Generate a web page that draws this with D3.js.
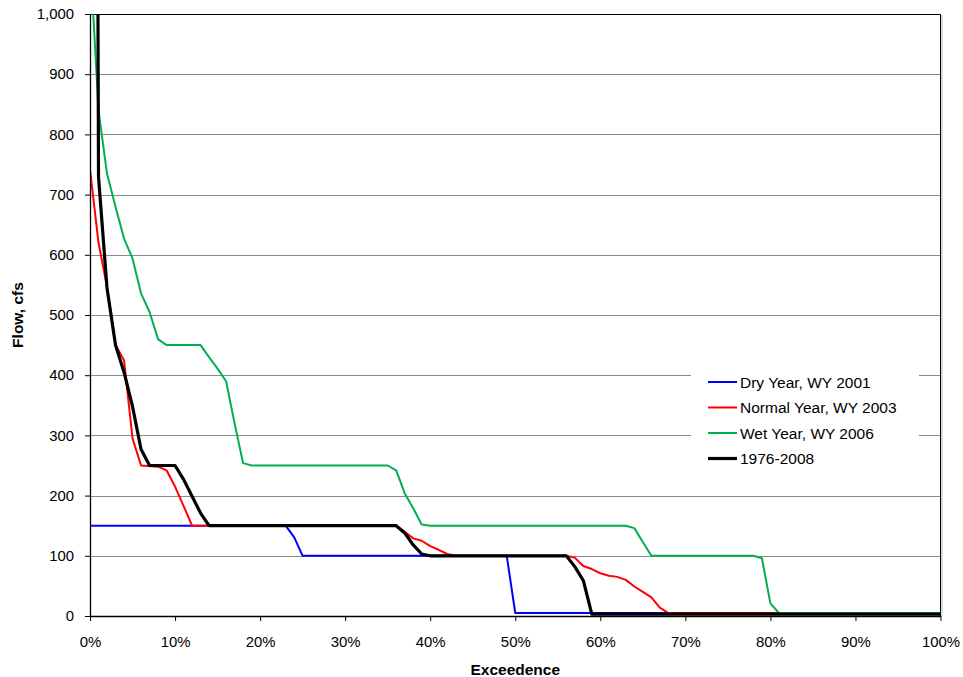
<!DOCTYPE html>
<html>
<head>
<meta charset="utf-8">
<script src="https://cdn.jsdelivr.net/npm/d3@7"></script>
<style>
  body { margin: 0; background: #fff; }
  svg { font-family: "Liberation Sans", Arial, sans-serif; }
</style>
</head>
<body>
<div id="chart"></div>
<script>
// flow duration curves, values at each kink
let dryPct    = [0, 23, 24, 25, 49, 50, 100];
let dryFlow   = [150, 150, 131, 100, 100, 5, 5];

let normalPct  = [0, 1, 2, 3, 4, 5, 6, 8, 9, 10, 11, 12, 36, 37, 38, 39, 40, 41, 42, 43,
                  56, 57, 58, 59, 60, 61, 62, 63, 64, 65, 66, 67, 68, 100];
let normalFlow = [742, 620, 547, 450, 425, 295, 250, 248, 242, 215, 183, 150, 150, 140, 129, 125, 116, 110, 103, 100,
                  100, 97, 83, 78, 71, 67, 65, 60, 49, 40, 31, 14, 5, 5];

let wetPct  = [0, 1, 2, 3, 4, 5, 6, 7, 8, 9, 13, 14, 15, 16, 17, 18, 19, 35, 36, 37, 38, 39, 40,
               63, 64, 65, 66, 78, 79, 80, 81, 100];
let wetFlow = [1100, 840, 735, 680, 627, 594, 536, 505, 460, 450, 450, 430, 411, 390, 320, 254, 250, 250, 242, 204, 179, 152, 150,
               150, 146, 123, 100, 100, 96, 21, 5, 5];

let allPct  = [0, 1, 2, 3, 4, 5, 6, 7, 10, 11, 12, 13, 14, 36, 37, 38, 39, 40, 56, 57, 58, 59, 100];
let allFlow = [5000, 730, 545, 450, 405, 348, 277, 250, 250, 227, 199, 171, 150, 150, 138, 118, 103, 100, 100, 82, 59, 3, 3];

let seriesNames = ["Dry Year, WY 2001", "Normal Year, WY 2003", "Wet Year, WY 2006", "1976-2008"];
let xTicks = [0, 10, 20, 30, 40, 50, 60, 70, 80, 90, 100];
let yTicks = [0, 100, 200, 300, 400, 500, 600, 700, 800, 900, 1000];

let series = [
  { name: seriesNames[0], pct: dryPct, flow: dryFlow, color: "#0000ff", width: 2 },
  { name: seriesNames[1], pct: normalPct, flow: normalFlow, color: "#ff0000", width: 2 },
  { name: seriesNames[2], pct: wetPct, flow: wetFlow, color: "#00b050", width: 2 },
  { name: seriesNames[3], pct: allPct, flow: allFlow, color: "#000000", width: 3.2 }
];

let width = 963, height = 677;
let plotLeft = 90, plotRight = 940.5, plotTop = 14, plotBottom = 616;
let tickFont = "14.9px", titleFont = "15.5px", legendFont = "15.5px";

let x = d3.scaleLinear().domain([0, 100]).range([plotLeft, plotRight]);
let y = d3.scaleLinear().domain([0, 1000]).range([plotBottom, plotTop]);

let svg = d3.select("#chart")
    .append("svg")
    .attr("width", width)
    .attr("height", height);

svg.append("defs").append("clipPath")
    .attr("id", "plot-clip")
  .append("rect")
    .attr("x", plotLeft)
    .attr("y", plotTop)
    .attr("width", plotRight - plotLeft)
    .attr("height", plotBottom - plotTop);

// gridlines
svg.append("g")
  .selectAll("line")
  .data(yTicks.filter(d => d > 0 && d < 1000))
  .join("line")
    .attr("x1", plotLeft)
    .attr("x2", plotRight)
    .attr("y1", d => Math.round(y(d)) + 0.5)
    .attr("y2", d => Math.round(y(d)) + 0.5)
    .attr("stroke", "#8a8a8a")
    .attr("stroke-width", 1);

// plot area border (top and right)
svg.append("path")
    .attr("d", `M${plotLeft},${plotTop + 0.5}H${plotRight}V${plotBottom}`)
    .attr("fill", "none")
    .attr("stroke", "#000")
    .attr("stroke-width", 1);
svg.append("line")
    .attr("x1", plotRight + 1.5).attr("x2", plotRight + 1.5)
    .attr("y1", plotTop + 1).attr("y2", plotBottom)
    .attr("stroke", "#bbb");

// legend background hides the gridlines behind it
let legendX = 691, legendY = 366;
svg.append("rect")
    .attr("x", legendX)
    .attr("y", legendY)
    .attr("width", 228)
    .attr("height", 106)
    .attr("fill", "#fff");

let line = d3.line()
    .x(d => x(d[0]))
    .y(d => y(d[1]));

svg.append("g")
    .attr("clip-path", "url(#plot-clip)")
  .selectAll("path")
  .data(series)
  .join("path")
    .attr("d", s => line(s.pct.map((p, i) => [p, s.flow[i]])))
    .attr("fill", "none")
    .attr("stroke", s => s.color)
    .attr("stroke-width", s => s.width)
    .attr("stroke-linejoin", "round");

// axes
let xAxis = d3.axisBottom(x)
    .tickValues(xTicks)
    .tickFormat(d => d + "%")
    .tickSize(5)
    .tickSizeOuter(0)
    .tickPadding(15);
let yAxis = d3.axisLeft(y)
    .tickValues(yTicks)
    .tickFormat(d3.format(","))
    .tickSize(5)
    .tickSizeOuter(0)
    .tickPadding(11);

let gx = svg.append("g")
    .attr("transform", `translate(0,${plotBottom})`)
    .call(xAxis);
let gy = svg.append("g")
    .attr("transform", `translate(${plotLeft},0)`)
    .call(yAxis);

[gx, gy].forEach(g => {
  g.selectAll("text")
      .attr("font-size", tickFont)
      .attr("font-family", "'Liberation Sans', Arial, sans-serif")
      .attr("fill", "#000");
  g.selectAll("line").attr("stroke", "#000");
  g.select(".domain").attr("stroke", "#000").attr("stroke-width", 1.3);
});

// axis titles
svg.append("text")
    .attr("x", (plotLeft + plotRight) / 2)
    .attr("y", 675)
    .attr("text-anchor", "middle")
    .attr("font-size", titleFont)
    .attr("font-weight", "bold")
    .text("Exceedence");

svg.append("text")
    .attr("transform", `translate(23,${(plotTop + plotBottom) / 2}) rotate(-90)`)
    .attr("text-anchor", "middle")
    .attr("font-size", titleFont)
    .attr("font-weight", "bold")
    .text("Flow, cfs");

// legend
let legend = svg.append("g")
  .selectAll("g")
  .data(series)
  .join("g")
    .attr("transform", (d, i) => `translate(708,${382 + i * 25.5})`);

legend.append("line")
    .attr("x1", 0)
    .attr("x2", 29)
    .attr("stroke", d => d.color)
    .attr("stroke-width", d => d.width);

legend.append("text")
    .attr("x", 32)
    .attr("dy", "0.36em")
    .attr("font-size", legendFont)
    .text(d => d.name);
</script>
</body>
</html>
